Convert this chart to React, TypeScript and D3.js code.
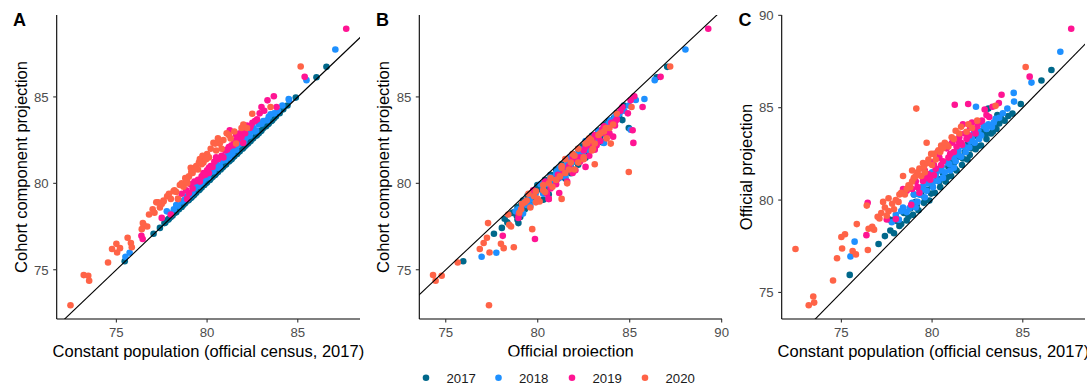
import React from "react";
import * as d3 from "d3";

// ---------- data (constant population, cohort component, official projection) ----------
const years = ["2017", "2018", "2019", "2020"];
const colors = ["#00688B", "#1E90FF", "#FF1493", "#FF6347"];

const const2017 = [75.46, 77.05, 77.4, 77.7, 77.9, 78.1, 78.3, 78.45, 78.6, 78.8, 78.95, 79.1, 79.25, 79.4, 79.55, 79.7, 79.85, 80.0, 80.15, 80.3, 80.45, 80.6, 80.75, 80.9, 81.05, 81.2, 81.35, 81.5, 81.65, 81.8, 81.95, 82.08, 82.25, 82.4, 82.55, 82.7, 82.85, 83.0, 83.1, 83.25, 83.4, 83.55, 83.8, 84.0, 84.43, 84.89, 86.03, 86.58, 82.75, 77.65, 77.85, 80.2, 81.0, 79.0, 82.0, 83.6,
  78.2, 78.7, 79.15, 79.6, 79.95, 80.4, 80.85, 81.25, 81.7, 82.15, 82.5, 82.95, 83.35, 83.7, 84.2, 80.5, 81.4, 79.3, 82.3, 78.0];
const cohort2017 = [75.49, 77.08, 77.42, 77.74, 77.95, 78.14, 78.33, 78.5, 78.63, 78.86, 79.0, 79.15, 79.3, 79.46, 79.6, 79.76, 79.9, 80.06, 80.2, 80.36, 80.5, 80.66, 80.8, 80.97, 81.1, 81.26, 81.4, 81.56, 81.7, 81.86, 82.0, 82.14, 82.3, 82.45, 82.62, 82.75, 82.9, 83.05, 83.2, 83.3, 83.46, 83.6, 83.88, 84.06, 84.5, 84.96, 86.14, 86.74, 82.8, 77.7, 77.9, 80.28, 81.08, 79.05, 82.06, 83.66,
  78.28, 78.76, 79.2, 79.66, 80.02, 80.47, 80.92, 81.32, 81.78, 82.22, 82.58, 83.02, 83.42, 83.78, 84.28, 80.58, 81.48, 79.36, 82.38, 78.05];
const official2017 = [75.95, 77.62, 78.05, 78.35, 78.2, 78.85, 78.7, 79.3, 78.9, 79.55, 79.2, 79.9, 79.45, 80.3, 79.85, 80.55, 79.98, 80.75, 80.4, 81.15, 80.7, 81.45, 81.0, 81.8, 81.3, 82.0, 81.6, 82.35, 81.9, 82.6, 82.2, 82.44, 83.05, 82.75, 83.4, 82.95, 83.65, 83.3, 84.95, 83.6, 84.1, 83.85, 84.42, 84.3, 84.68, 85.2, 86.47, 87.04, 83.74, 78.95, 78.9, 81.5, 82.2, 80.3, 83.1, 84.6,
  78.6, 79.1, 79.7, 80.1, 80.35, 81.0, 81.25, 81.7, 82.25, 82.8, 82.9, 83.55, 83.7, 84.15, 84.55, 81.8, 82.6, 80.6, 83.5, 79.05];

const const2018 = [75.5, 75.73, 77.78, 78.0, 78.17, 78.4, 78.6, 78.76, 79.0, 79.2, 79.32, 79.5, 79.7, 79.9, 80.05, 80.2, 80.35, 80.53, 80.7, 80.85, 81.0, 81.15, 81.3, 81.45, 81.6, 81.75, 81.9, 82.05, 82.2, 82.35, 82.42, 82.55, 82.7, 82.85, 83.1, 83.3, 83.5, 83.9, 84.15, 84.5, 84.52, 85.48, 87.07, 79.1, 80.6, 81.2,
  78.3, 78.9, 79.4, 79.8, 80.1, 80.45, 80.95, 81.4, 81.85, 82.1, 82.6, 83.0, 83.4, 83.7, 80.0, 81.0, 82.3, 79.6];
const cohort2018 = [75.75, 75.98, 78.38, 78.25, 78.5, 78.7, 78.95, 79.05, 79.4, 79.45, 79.7, 79.85, 80.05, 80.3, 80.35, 80.65, 80.7, 81.1, 81.0, 81.3, 81.35, 81.6, 81.65, 81.95, 81.95, 82.25, 82.34, 82.4, 82.7, 82.75, 83.1, 83.2, 83.05, 83.4, 83.6, 83.65, 84.0, 84.2, 84.5, 84.88, 84.82, 85.97, 87.74, 79.3, 80.9, 81.5,
  78.75, 79.25, 79.95, 80.2, 80.55, 80.95, 81.5, 81.75, 82.45, 82.6, 83.0, 83.45, 83.85, 84.05, 80.4, 81.55, 82.9, 79.95];
const official2018 = [76.95, 77.75, 78.8, 79.2, 78.94, 79.6, 79.35, 79.57, 80.3, 79.9, 80.29, 80.75, 80.5, 81.15, 80.7, 81.35, 81.05, 81.8, 81.5, 82.05, 81.6, 82.3, 82.1, 82.7, 82.35, 82.9, 83.6, 82.85, 83.3, 83.1, 85.05, 83.75, 83.5, 84.0, 84.1, 83.95, 84.4, 84.7, 84.95, 85.8, 85.33, 86.36, 88.03, 79.6, 81.2, 81.75,
  79.4, 79.85, 80.55, 80.9, 81.0, 81.6, 81.95, 82.45, 82.6, 83.2, 83.3, 83.85, 84.2, 84.45, 81.5, 82.4, 83.6, 80.15];

const const2019 = [76.38, 76.45, 77.5, 78.0, 78.6, 78.9, 79.1, 79.3, 79.5, 79.6, 79.8, 80.0, 80.2, 80.4, 80.6, 80.8, 81.0, 81.1, 81.25, 81.35, 81.5, 81.65, 81.8, 81.99, 82.05, 82.2, 82.35, 82.5, 82.64, 82.9, 83.0, 83.33, 83.68, 83.83, 85.38, 87.67, 79.0, 78.4, 80.1, 81.7, 78.85,
  79.2, 79.7, 80.1, 80.5, 80.9, 81.2, 81.45, 81.9, 82.1, 82.4, 82.75, 83.15, 80.3, 79.9, 81.6];
const cohort2019 = [76.96, 76.78, 78.0, 78.2, 79.4, 79.1, 79.95, 80.1, 80.2, 80.1, 80.6, 80.75, 81.0, 81.25, 81.4, 81.6, 81.9, 81.95, 83.07, 82.2, 82.45, 82.5, 82.9, 82.34, 83.1, 83.35, 83.2, 83.5, 83.6, 84.05, 84.42, 84.8, 85.04, 84.42, 86.16, 88.94, 79.44, 79.1, 80.9, 82.7, 79.6,
  79.7, 80.4, 80.6, 81.5, 81.5, 82.1, 82.2, 82.7, 82.9, 83.3, 83.7, 84.2, 80.95, 80.5, 82.8];
const official2019 = [78.1, 79.85, 78.95, 78.97, 80.5, 80.6, 81.0, 80.4, 81.03, 81.6, 81.4, 82.05, 81.7, 82.3, 82.1, 82.8, 82.5, 83.1, 85.16, 82.9, 83.4, 83.0, 83.6, 85.2, 83.5, 84.2, 83.8, 84.0, 84.23, 84.9, 84.6, 85.05, 85.25, 85.7, 86.68, 89.27, 81.17, 80.6, 81.35, 84.1, 79.75,
  80.7, 81.2, 81.9, 81.9, 82.3, 82.6, 83.2, 83.3, 83.9, 83.6, 84.3, 84.5, 82.6, 81.1, 83.1];

const const2020 = [72.47, 73.2, 73.45, 73.5, 74.54, 74.76, 75.04, 75.0, 75.2, 75.62, 75.8, 75.85, 76.46, 76.5, 76.7, 76.8, 76.4, 77.0, 77.2, 77.4, 77.6, 77.8, 78.0, 78.15, 78.3, 78.5, 78.7, 78.8, 79.0, 79.13, 79.2, 79.4, 79.5, 79.6, 79.8, 80.0, 80.1, 80.35, 80.5, 80.7, 80.9, 81.08, 81.3, 81.5, 81.6, 82.0, 82.49, 83.5, 85.16, 82.2, 79.7, 78.4, 77.6,
  77.1, 77.5, 77.9, 78.2, 78.6, 78.9, 79.1, 79.3, 79.55, 79.75, 79.95, 80.2, 80.45, 80.8, 81.2, 81.9, 80.6, 78.9, 77.3];
const cohort2020 = [72.95, 74.69, 74.65, 74.36, 75.42, 76.2, 76.0, 76.5, 76.25, 76.85, 76.55, 76.3, 77.7, 77.6, 77.5, 78.2, 77.35, 78.5, 78.9, 78.6, 79.0, 79.25, 79.1, 79.54, 79.5, 79.9, 79.8, 80.3, 80.4, 80.66, 80.6, 81.0, 80.8, 81.4, 81.2, 81.7, 81.5, 82.34, 81.9, 82.3, 82.5, 82.9, 82.6, 83.0, 82.3, 83.4, 84.03, 84.42, 86.76, 83.2, 81.1, 79.1, 78.95,
  78.3, 78.8, 79.4, 79.6, 80.0, 80.2, 80.9, 80.8, 81.2, 81.6, 81.4, 82.0, 82.3, 82.0, 82.8, 83.2, 82.6, 80.0, 78.9];
const official2020 = [77.35, 74.31, 74.78, 74.45, 75.65, 76.85, 77.38, 78.0, 78.15, 77.24, 77.06, 78.7, 77.3, 78.45, 78.55, 78.4, 79.7, 79.1, 79.3, 79.6, 79.4, 79.8, 80.0, 79.9, 80.4, 80.3, 80.8, 80.7, 81.2, 84.95, 81.5, 81.3, 82.0, 81.5, 82.2, 81.9, 82.5, 82.7, 82.95, 83.1, 82.9, 83.4, 83.75, 83.6, 83.97, 84.1, 84.3, 85.1, 87.2, 83.9, 83.1, 81.3, 80.1,
  79.0, 79.15, 79.5, 80.3, 80.6, 81.0, 81.3, 81.7, 81.8, 82.0, 82.5, 82.2, 82.6, 83.0, 83.3, 83.7, 82.8, 81.6, 79.9];

const tickValues = [75, 80, 85, 90];
const legendLabels = years;

// ---------- assemble ----------
const constByYear = [const2017, const2018, const2019, const2020];
const cohortByYear = [cohort2017, cohort2018, cohort2019, cohort2020];
const officialByYear = [official2017, official2018, official2019, official2020];

type Pt = { c: number; h: number; o: number; yi: number };
const points: Pt[] = [];
years.forEach((_, yi) => {
  constByYear[yi].forEach((c, i) => {
    points.push({ c, h: cohortByYear[yi][i], o: officialByYear[yi][i], yi });
  });
});

const FONT = "'Liberation Sans', Arial, Helvetica, sans-serif";

function expandedDomain(vals: number[]): [number, number] {
  const [lo, hi] = d3.extent(vals) as [number, number];
  const pad = (hi - lo) * 0.05;
  return [lo - pad, hi + pad];
}

type Key = "c" | "h" | "o";
const domains: Record<Key, [number, number]> = {
  c: expandedDomain(points.map((p) => p.c)),
  h: expandedDomain(points.map((p) => p.h)),
  o: expandedDomain(points.map((p) => p.o)),
};

const TOP = 15;
const BOTTOM = 319;

const panels = [
  { id: "A", xKey: "c" as Key, yKey: "h" as Key, xTitle: "Constant population (official census, 2017)", yTitle: "Cohort component projection", left: 56.7, right: 360, labelX: 13, clipTitle: null as null | number[] },
  { id: "B", xKey: "o" as Key, yKey: "h" as Key, xTitle: "Official projection", yTitle: "Cohort component projection", left: 419.3, right: 722, labelX: 376, clipTitle: [363, 0, 363, 356.5] },
  { id: "C", xKey: "c" as Key, yKey: "o" as Key, xTitle: "Constant population (official census, 2017)", yTitle: "Official projection", left: 781.7, right: 1085, labelX: 738.5, clipTitle: [726, 0, 361, 400] },
];

function Panel({ p }: { p: (typeof panels)[number] }) {
  const x = d3.scaleLinear().domain(domains[p.xKey]).range([p.left, p.right]);
  const y = d3.scaleLinear().domain(domains[p.yKey]).range([BOTTOM, TOP]);
  const xd = x.domain();
  const yd = y.domain();
  const xt = tickValues.filter((t) => t >= xd[0] && t <= xd[1]);
  const yt = tickValues.filter((t) => t >= yd[0] && t <= yd[1]);
  const lo = Math.min(xd[0], yd[0]);
  const hi = Math.max(xd[1], yd[1]);
  const clipId = `clip-${p.id}`;
  const titleClip = `tclip-${p.id}`;
  const cx = (p.left + p.right) / 2;
  const cy = (TOP + BOTTOM) / 2;
  return (
    <g>
      <defs>
        <clipPath id={clipId}>
          <rect x={p.left} y={TOP} width={p.right - p.left} height={BOTTOM - TOP} />
        </clipPath>
        {p.clipTitle && (
          <clipPath id={titleClip}>
            <rect x={p.clipTitle[0]} y={p.clipTitle[1]} width={p.clipTitle[2]} height={p.clipTitle[3]} />
          </clipPath>
        )}
      </defs>
      <g>
        {points.map((d, i) => (
          <circle key={i} cx={x(d[p.xKey])} cy={y(d[p.yKey])} r={3.3} fill={colors[d.yi]} />
        ))}
      </g>
      <line x1={x(lo)} y1={y(lo)} x2={x(hi)} y2={y(hi)} stroke="#000" strokeWidth={1.1} clipPath={`url(#${clipId})`} />
      <line x1={p.left} y1={TOP} x2={p.left} y2={BOTTOM} stroke="#000" strokeWidth={1.1} />
      <line x1={p.left} y1={BOTTOM} x2={p.right} y2={BOTTOM} stroke="#000" strokeWidth={1.1} />
      {yt.map((t) => (
        <g key={`y${t}`}>
          <line x1={p.left - 3.5} x2={p.left} y1={y(t)} y2={y(t)} stroke="#333" strokeWidth={1.1} />
          <text x={p.left - 8} y={y(t)} dy="0.36em" textAnchor="end" fontSize={13.2} fill="#4D4D4D" fontFamily={FONT}>{t}</text>
        </g>
      ))}
      {xt.map((t) => (
        <g key={`x${t}`}>
          <line x1={x(t)} x2={x(t)} y1={BOTTOM} y2={BOTTOM + 3.5} stroke="#333" strokeWidth={1.1} />
          <text x={x(t)} y={336.8} textAnchor="middle" fontSize={13.2} fill="#4D4D4D" fontFamily={FONT}>{t}</text>
        </g>
      ))}
      <text x={cx} y={356.5} textAnchor="middle" fontSize={16.5} fill="#000" fontFamily={FONT} clipPath={p.clipTitle ? `url(#${titleClip})` : undefined}>{p.xTitle}</text>
      <text transform={`translate(${p.left - 30},${cy}) rotate(-90)`} textAnchor="middle" fontSize={16.5} fill="#000" fontFamily={FONT}>{p.yTitle}</text>
      <text x={p.labelX} y={25.5} fontSize={18} fontWeight="bold" fill="#000" fontFamily={FONT}>{p.id}</text>
    </g>
  );
}

export default function App() {
  const legendX = [426, 498.5, 572, 645];
  return (
    <svg width={1089} height={388} style={{ display: "block", position: "absolute", left: 0, top: 0, background: "#fff" }}>
      <rect x={0} y={0} width={1089} height={388} fill="#fff" />
      {panels.map((p) => (
        <Panel key={p.id} p={p} />
      ))}
      <g>
        {legendLabels.map((lab, i) => (
          <g key={lab}>
            <circle cx={legendX[i]} cy={377.7} r={3.3} fill={colors[i]} />
            <text x={legendX[i] + 20.5} y={382.6} fontSize={13.2} fill="#1A1A1A" fontFamily={FONT}>{lab}</text>
          </g>
        ))}
      </g>
    </svg>
  );
}
